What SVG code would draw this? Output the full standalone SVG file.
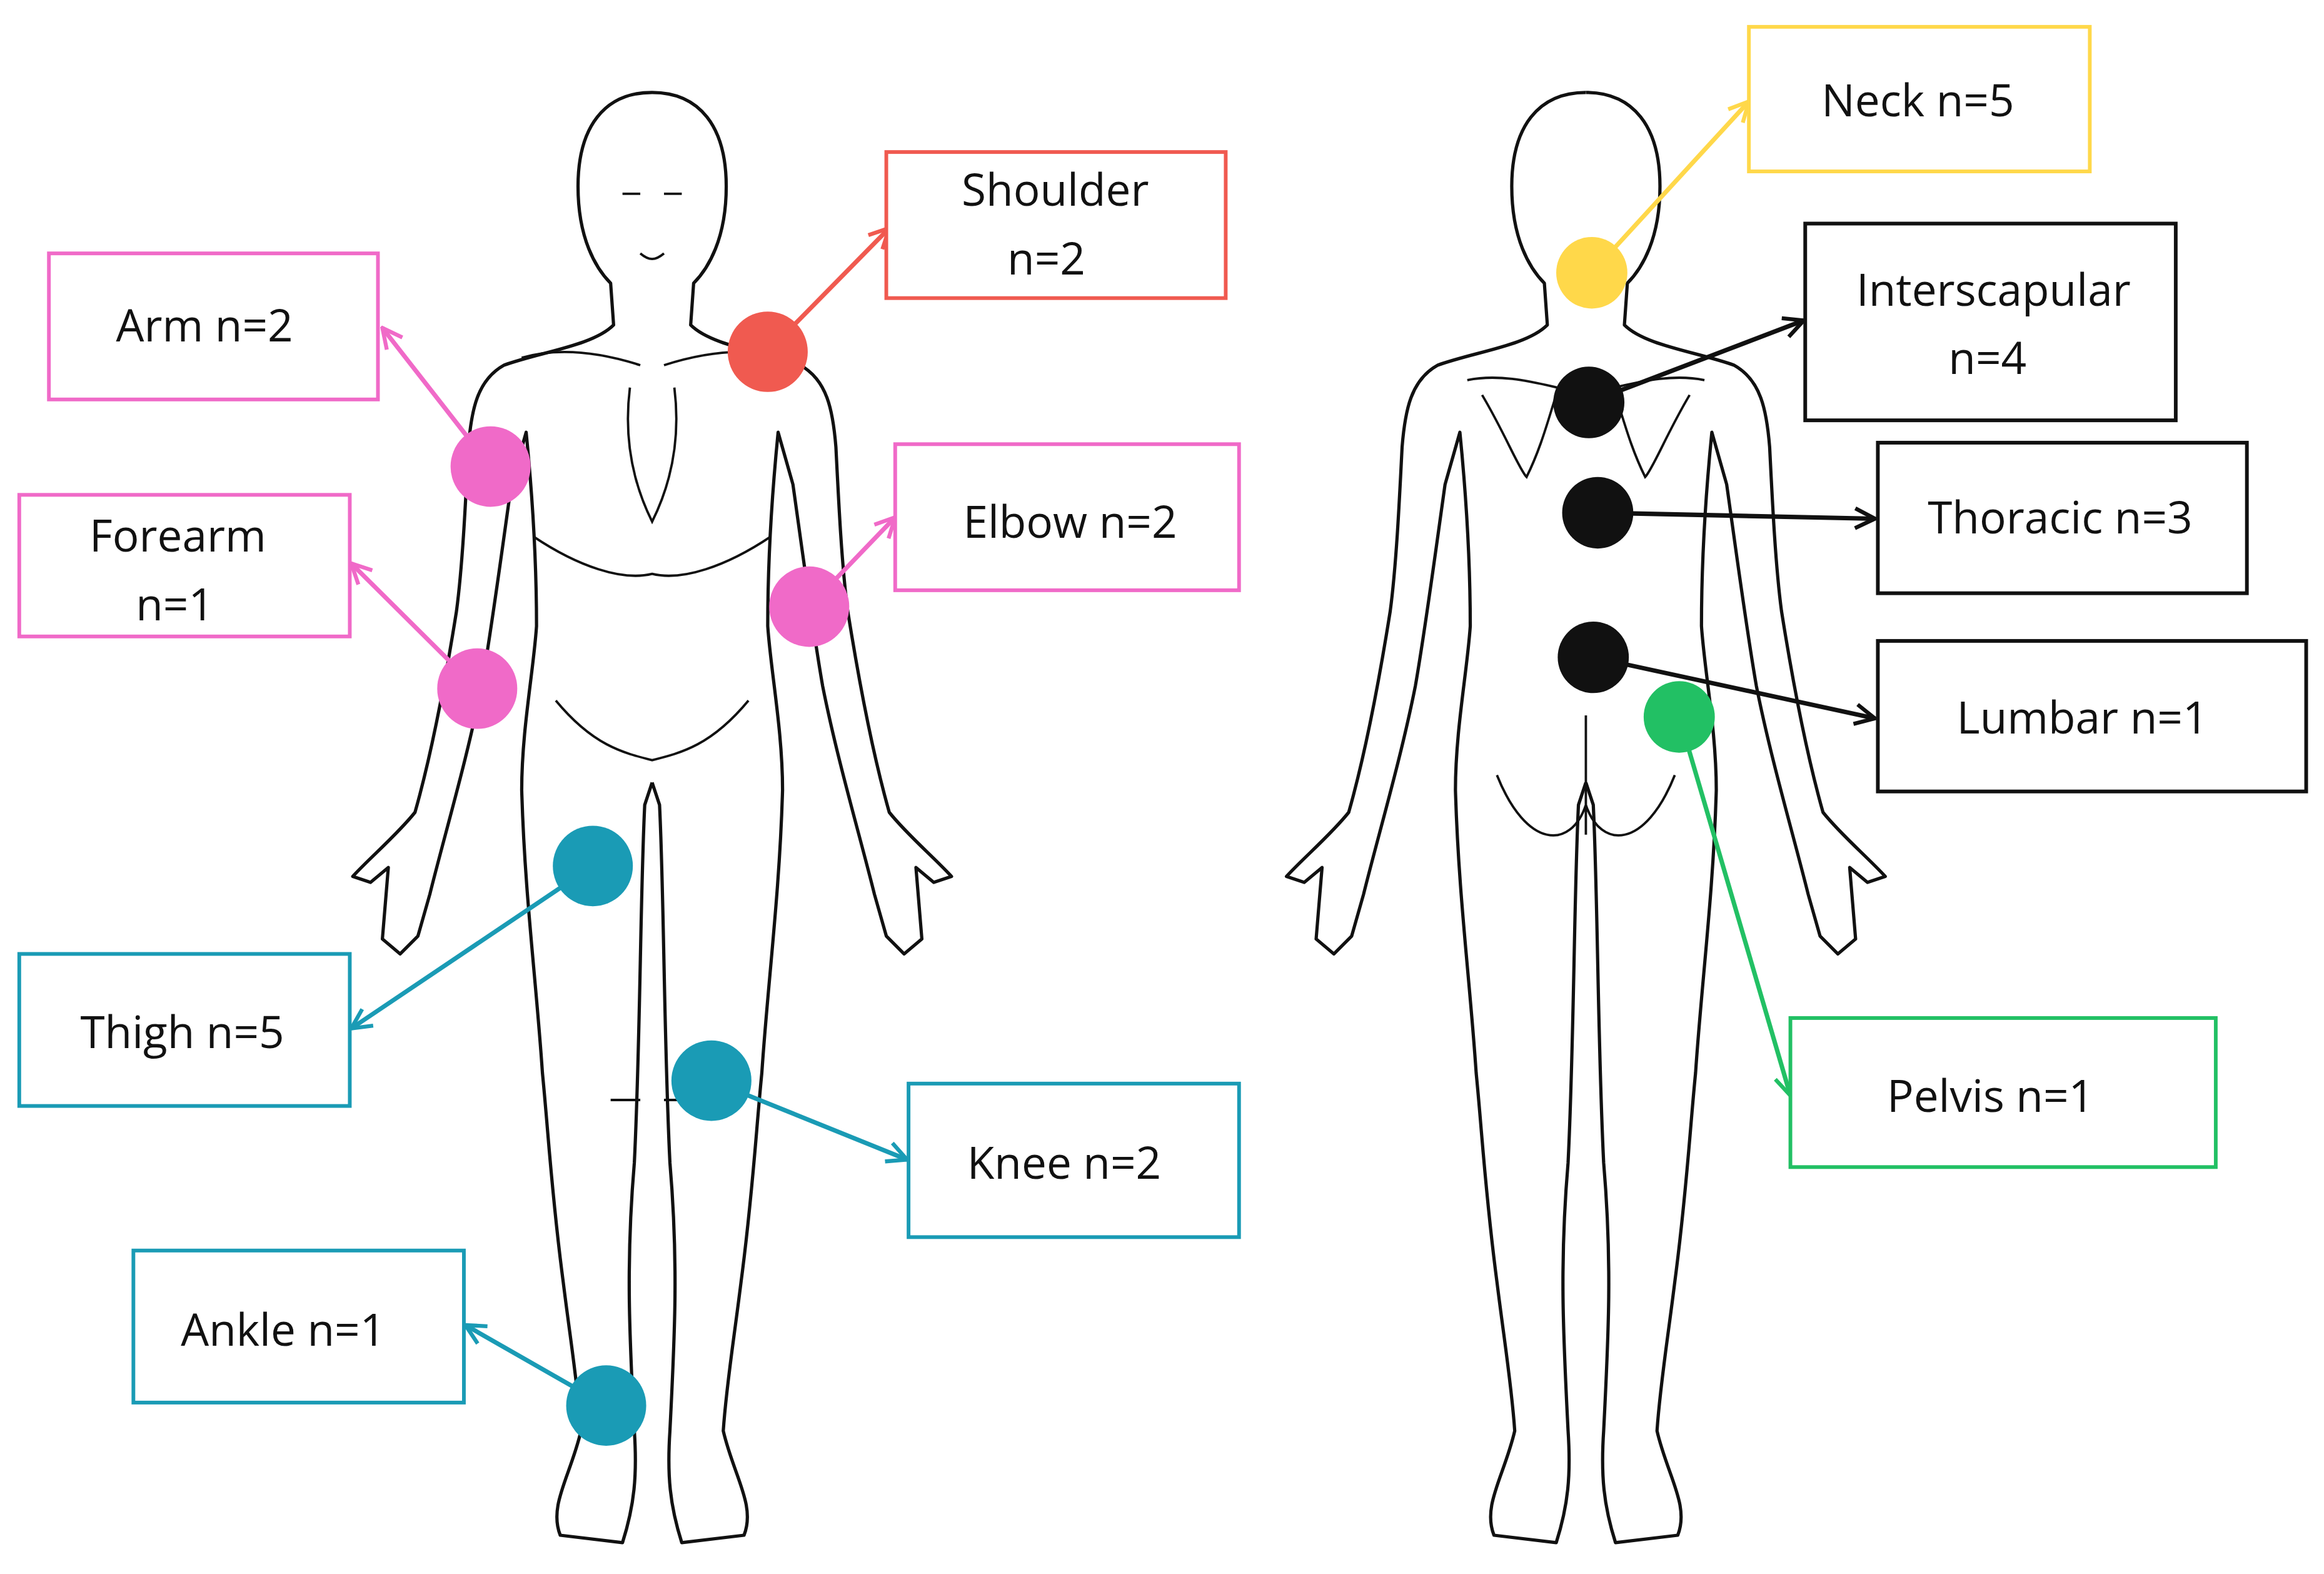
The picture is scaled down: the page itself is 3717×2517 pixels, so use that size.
<svg xmlns="http://www.w3.org/2000/svg" width="3717" height="2517" viewBox="0 0 3717 2517">
<defs>
<style>
.body{fill:#fff;stroke:#111;stroke-width:2.2;stroke-linejoin:round}
.det{fill:none;stroke:#111;stroke-width:1.6}
.box{fill:#fff;stroke-width:2.5}
.lbl{font-family:"Open Sans","Liberation Sans",sans-serif;font-size:30px;fill:#111;text-anchor:middle}
.con{fill:none;stroke-width:3}
</style>
<marker id="mr" viewBox="0 0 12 12" refX="11" refY="6" markerWidth="16" markerHeight="16" orient="auto" markerUnits="userSpaceOnUse"><path d="M1,1 L11,6 L1,11" fill="none" stroke="#f05a50" stroke-width="2"/></marker>
<marker id="mp" viewBox="0 0 12 12" refX="11" refY="6" markerWidth="16" markerHeight="16" orient="auto" markerUnits="userSpaceOnUse"><path d="M1,1 L11,6 L1,11" fill="none" stroke="#f06ac8" stroke-width="2"/></marker>
<marker id="mt" viewBox="0 0 12 12" refX="11" refY="6" markerWidth="16" markerHeight="16" orient="auto" markerUnits="userSpaceOnUse"><path d="M1,1 L11,6 L1,11" fill="none" stroke="#1a9bb5" stroke-width="2"/></marker>
<marker id="my" viewBox="0 0 12 12" refX="11" refY="6" markerWidth="16" markerHeight="16" orient="auto" markerUnits="userSpaceOnUse"><path d="M1,1 L11,6 L1,11" fill="none" stroke="#ffd84a" stroke-width="2"/></marker>
<marker id="mk" viewBox="0 0 12 12" refX="11" refY="6" markerWidth="16" markerHeight="16" orient="auto" markerUnits="userSpaceOnUse"><path d="M1,1 L11,6 L1,11" fill="none" stroke="#111" stroke-width="2"/></marker>
<marker id="mg" viewBox="0 0 12 12" refX="11" refY="6" markerWidth="16" markerHeight="16" orient="auto" markerUnits="userSpaceOnUse"><path d="M1,1 L11,6 L1,11" fill="none" stroke="#22c064" stroke-width="2"/></marker>
<path id="half" d="M0,62 C32,62 50,85 50,125 C50,160 38,180 28,190 L26,218 C40,232 75,236 100,245 C118,255 122,275 124,300 C126,340 128,380 132,410 C140,460 150,510 160,545 C172,560 190,575 202,588 L190,592 L178,582 L182,630 L170,640 L158,628 L150,600 C140,560 125,510 115,460 C108,420 100,360 95,325 L85,290 C80,340 78,380 78,420 C80,450 88,490 88,530 C86,600 78,660 74,720 C70,760 68,800 60,860 C55,900 50,930 48,960 C55,990 70,1010 62,1030 L20,1035 C12,1010 10,990 12,960 C15,900 18,850 12,780 C8,700 8,600 5,540 L0,525"/>
</defs>
<rect width="3717" height="2517" fill="#fff"/>
<g transform="scale(2.3705,2.3835)">
<g id="front-body">
<use href="#half" x="440" class="body"/>
<use href="#half" class="body" transform="translate(440,0) scale(-1,1)"/>
<path class="det" d="M352,240 C380,232 410,238 432,245 M528,240 C500,232 470,238 448,245 M425,260 C420,300 430,330 440,350 C450,330 460,300 455,260 M360,360 C390,380 420,390 440,385 C460,390 490,380 520,360 M375,470 C400,500 420,505 440,510 C460,505 480,500 505,470 M412,738 L432,738 M448,738 L468,738"/>
<path class="det" d="M420,130 L432,130 M448,130 L460,130 M432,170 C438,175 442,175 448,170"/>
</g>
<g id="back-body">
<use href="#half" x="1070" class="body"/>
<use href="#half" class="body" transform="translate(1070,0) scale(-1,1)"/>
<path class="det" d="M990,255 C1015,250 1040,258 1060,262 M1150,255 C1125,250 1100,258 1080,262 M1000,265 C1015,290 1025,315 1030,320 C1040,300 1045,280 1050,265 M1140,265 C1125,290 1115,315 1110,320 C1100,300 1095,280 1090,265 M1010,520 C1030,570 1060,570 1070,540 C1080,570 1110,570 1130,520 M1070,480 L1070,560"/>
</g>
<g id="connectors">
<line class="con" stroke="#f05a50" x1="518" y1="236" x2="600" y2="153" marker-end="url(#mr)"/>
<line class="con" stroke="#f06ac8" x1="331" y1="313" x2="258" y2="220" marker-end="url(#mp)"/>
<line class="con" stroke="#f06ac8" x1="322" y1="462" x2="237" y2="378" marker-end="url(#mp)"/>
<line class="con" stroke="#f06ac8" x1="546" y1="407" x2="604" y2="347" marker-end="url(#mp)"/>
<line class="con" stroke="#1a9bb5" x1="400" y1="581" x2="237" y2="690" marker-end="url(#mt)"/>
<line class="con" stroke="#1a9bb5" x1="480" y1="725" x2="612" y2="778" marker-end="url(#mt)"/>
<line class="con" stroke="#1a9bb5" x1="409" y1="943" x2="314" y2="889" marker-end="url(#mt)"/>
<line class="con" stroke="#ffd84a" x1="1074" y1="183" x2="1180" y2="68" marker-end="url(#my)"/>
<line class="con" stroke="#111" x1="1072" y1="270" x2="1217" y2="215" marker-end="url(#mk)"/>
<line class="con" stroke="#111" x1="1078" y1="344" x2="1265" y2="348" marker-end="url(#mk)"/>
<line class="con" stroke="#111" x1="1075" y1="441" x2="1265" y2="482" marker-end="url(#mk)"/>
<line class="con" stroke="#22c064" x1="1133" y1="481" x2="1208" y2="735" marker-end="url(#mg)"/>
</g>
<g id="dots">
<circle cx="518" cy="236" r="27" fill="#f05a50"/>
<circle cx="331" cy="313" r="27" fill="#f06ac8"/>
<circle cx="322" cy="462" r="27" fill="#f06ac8"/>
<circle cx="546" cy="407" r="27" fill="#f06ac8"/>
<circle cx="400" cy="581" r="27" fill="#1a9bb5"/>
<circle cx="480" cy="725" r="27" fill="#1a9bb5"/>
<circle cx="409" cy="943" r="27" fill="#1a9bb5"/>
<circle cx="1074" cy="183" r="24" fill="#ffd84a"/>
<circle cx="1072" cy="270" r="24" fill="#111"/>
<circle cx="1078" cy="344" r="24" fill="#111"/>
<circle cx="1075" cy="441" r="24" fill="#111"/>
<circle cx="1133" cy="481" r="24" fill="#22c064"/>
</g>
<g id="n-shoulder"><rect class="box" stroke="#f05a50" x="598" y="102" width="229" height="98"/><text class="lbl" x="712" y="138">Shoulder</text><text class="lbl" x="706" y="184">n=2</text></g>
<g id="n-arm"><rect class="box" stroke="#f06ac8" x="33" y="170" width="222" height="98"/><text class="lbl" x="138" y="229">Arm n=2</text></g>
<g id="n-forearm"><rect class="box" stroke="#f06ac8" x="13" y="332" width="223" height="95"/><text class="lbl" x="120" y="370">Forearm</text><text class="lbl" x="118" y="416">n=1</text></g>
<g id="n-elbow"><rect class="box" stroke="#f06ac8" x="604" y="298" width="232" height="98"/><text class="lbl" x="722" y="361">Elbow n=2</text></g>
<g id="n-thigh"><rect class="box" stroke="#1a9bb5" x="13" y="640" width="223" height="102"/><text class="lbl" x="123" y="703">Thigh n=5</text></g>
<g id="n-knee"><rect class="box" stroke="#1a9bb5" x="613" y="727" width="223" height="103"/><text class="lbl" x="718" y="791">Knee n=2</text></g>
<g id="n-ankle"><rect class="box" stroke="#1a9bb5" x="90" y="839" width="223" height="102"/><text class="lbl" x="191" y="903">Ankle n=1</text></g>
<g id="n-neck"><rect class="box" stroke="#ffd84a" x="1180" y="18" width="230" height="97"/><text class="lbl" x="1294" y="78">Neck n=5</text></g>
<g id="n-interscapular"><rect class="box" stroke="#111" x="1218" y="150" width="250" height="132"/><text class="lbl" x="1345" y="205">Interscapular</text><text class="lbl" x="1341" y="251">n=4</text></g>
<g id="n-thoracic"><rect class="box" stroke="#111" x="1267" y="297" width="249" height="101"/><text class="lbl" x="1390" y="358">Thoracic n=3</text></g>
<g id="n-lumbar"><rect class="box" stroke="#111" x="1267" y="430" width="289" height="101"/><text class="lbl" x="1405" y="492">Lumbar n=1</text></g>
<g id="n-pelvis"><rect class="box" stroke="#22c064" x="1208" y="683" width="287" height="100"/><text class="lbl" x="1343" y="746">Pelvis n=1</text></g>
</g>
</svg>
